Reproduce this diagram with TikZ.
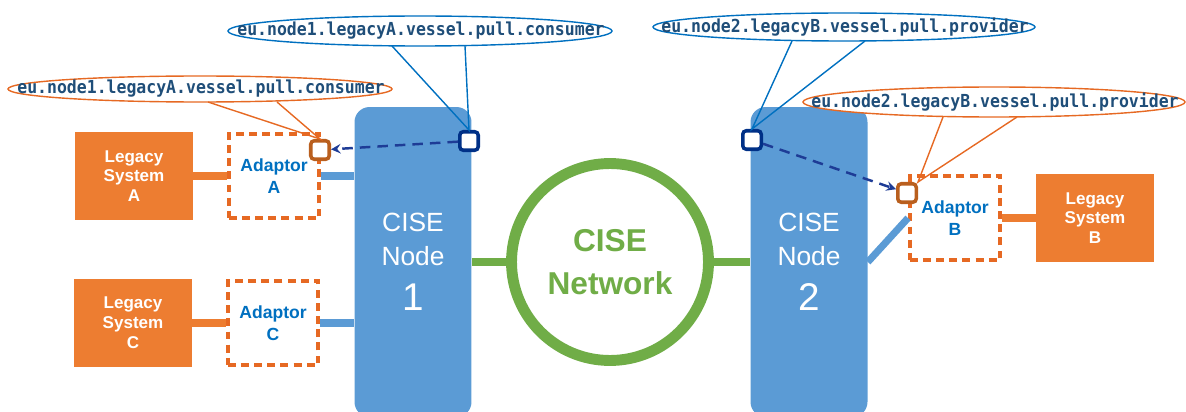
\documentclass[tikz,border=0pt]{standalone}
\usepackage{fontspec}
\setmainfont{Liberation Sans}
\setmonofont[FakeStretch=0.92]{DejaVu Sans Mono}
\usetikzlibrary{shapes,arrows,positioning,calc}

\definecolor{nodeblue}{RGB}{91,155,213}
\definecolor{netgreen}{RGB}{112,173,71}
\definecolor{legorange}{RGB}{237,125,49}
\definecolor{dashorange}{RGB}{230,105,35}
\definecolor{adtext}{RGB}{0,112,192}
\definecolor{portblue}{RGB}{0,48,135}
\definecolor{portbrown}{RGB}{185,95,30}
\definecolor{arrowblue}{RGB}{30,60,150}
\definecolor{calltext}{RGB}{31,78,121}

\begin{document}
\begin{tikzpicture}[
    x=0.02cm, y=-0.02cm,
    cisenode/.style={rectangle, rounded corners=0.3cm, fill=nodeblue, minimum width=2.34cm, minimum height=6.2cm, text=white, align=center, font=\fontsize{15}{19}\selectfont},
    network/.style={circle, draw=netgreen, line width=6.2pt, fill=white, minimum size=3.94cm, text=netgreen, align=center, font=\bfseries\fontsize{18}{24.4}\selectfont},
    legacy/.style={rectangle, fill=legorange, minimum width=2.36cm, minimum height=1.76cm, text=white, align=center, font=\bfseries\fontsize{9.7}{11.3}\selectfont},
    adaptor/.style={rectangle, draw=dashorange, line width=2pt, dash pattern=on 4.5pt off 3pt, fill=white, minimum width=1.81cm, minimum height=1.69cm, text=adtext, align=center, font=\bfseries\fontsize{10}{12.5}\selectfont},
    port/.style={rectangle, rounded corners=2pt, draw=portblue, line width=2pt, fill=white, minimum size=0.37cm, inner sep=0pt},
    adport/.style={port, draw=portbrown},
    orangelink/.style={draw=legorange, line width=4pt},
    bluelink/.style={draw=nodeblue, line width=4pt},
    greenlink/.style={draw=netgreen, line width=4.5pt},
    pull/.style={->, >=stealth, draw=arrowblue, line width=1.4pt, dash pattern=on 6pt off 4pt},
    calllabel/.style={inner sep=0pt, text=calltext, font=\ttfamily\bfseries\fontsize{10.2}{12}\selectfont},
    bluecall/.style={draw=adtext, fill=white, line width=0.8pt},
    orangecall/.style={draw=dashorange, fill=white, line width=0.8pt},
    bluetail/.style={draw=adtext, line width=0.8pt},
    orangetail/.style={draw=dashorange, line width=0.8pt}
]
    \useasboundingbox (0,0) rectangle (1186,412);

    % CISE nodes and network
    \node[cisenode] (node1) at (413,262) {CISE\\Node\\[7pt]{\fontsize{22}{24}\selectfont 1}};
    \node[cisenode] (node2) at (809,262) {CISE\\Node\\[7pt]{\fontsize{22}{24}\selectfont 2}};
    \node[network] (net) at (610,262) {CISE\\Network};

    % legacy systems and adaptors
    \node[legacy] (legA) at (134,176) {Legacy\\System\\A};
    \node[adaptor] (adA) at (274,176) {Adaptor\\A};
    \node[legacy] (legC) at (133,323) {Legacy\\System\\C};
    \node[adaptor] (adC) at (273,323) {Adaptor\\C};
    \node[legacy] (legB) at (1095,218) {Legacy\\System\\B};
    \node[adaptor] (adB) at (955,218) {Adaptor\\B};

    % links
    \draw[greenlink] (node1) -- (net);
    \draw[greenlink] (net) -- (node2);
    \draw[orangelink] (legA) -- (adA);
    \draw[orangelink] (legC) -- (adC);
    \draw[orangelink] (adB) -- (legB);
    \draw[bluelink] (adA.east) -- (adA.east -| node1.west);
    \draw[bluelink] (adC.east) -- (adC.east -| node1.west);
    \draw[bluelink] (node2.east) -- (adB.west);

    % ports and pull requests
    \node[port] (p1) at (469,141) {};
    \node[port] (p2) at (752,140) {};
    \node[adport] (qA) at (320,150) {};
    \node[adport] (qB) at (907,193) {};
    \draw[pull] (p1) -- (qA);
    \draw[pull] (p2) -- (qB);

    % callouts
    \draw[bluecall] (420,31) ellipse [x radius=192, y radius=15];
    \node[calllabel] (c1) at (421,31) {eu.node1.legacyA.vessel.pull.consumer};
    \draw[bluetail] ($(c1.center)+(-29,15)$) -- (p1.north) -- ($(c1.center)+(44,15)$);
    \draw[orangecall] (200,89) ellipse [x radius=192, y radius=13];
    \node[calllabel] (c2) at (201,89) {eu.node1.legacyA.vessel.pull.consumer};
    \draw[orangetail] ($(c2.center)+(7,13)$) -- (qA.north) -- ($(c2.center)+(76,13)$);
    \draw[bluecall] (844,27) ellipse [x radius=191, y radius=14];
    \node[calllabel] (c3) at (845,27) {eu.node2.legacyB.vessel.pull.provider};
    \draw[bluetail] ($(c3.center)+(-53,14)$) -- (p2.north) -- ($(c3.center)+(20,14)$);
    \draw[orangecall] (994,102) ellipse [x radius=191, y radius=15];
    \node[calllabel] (c4) at (995,102) {eu.node2.legacyB.vessel.pull.provider};
    \draw[orangetail] ($(c4.center)+(-52,15)$) -- (qB.north east) -- ($(c4.center)+(22,15)$);
\end{tikzpicture}
\end{document}
